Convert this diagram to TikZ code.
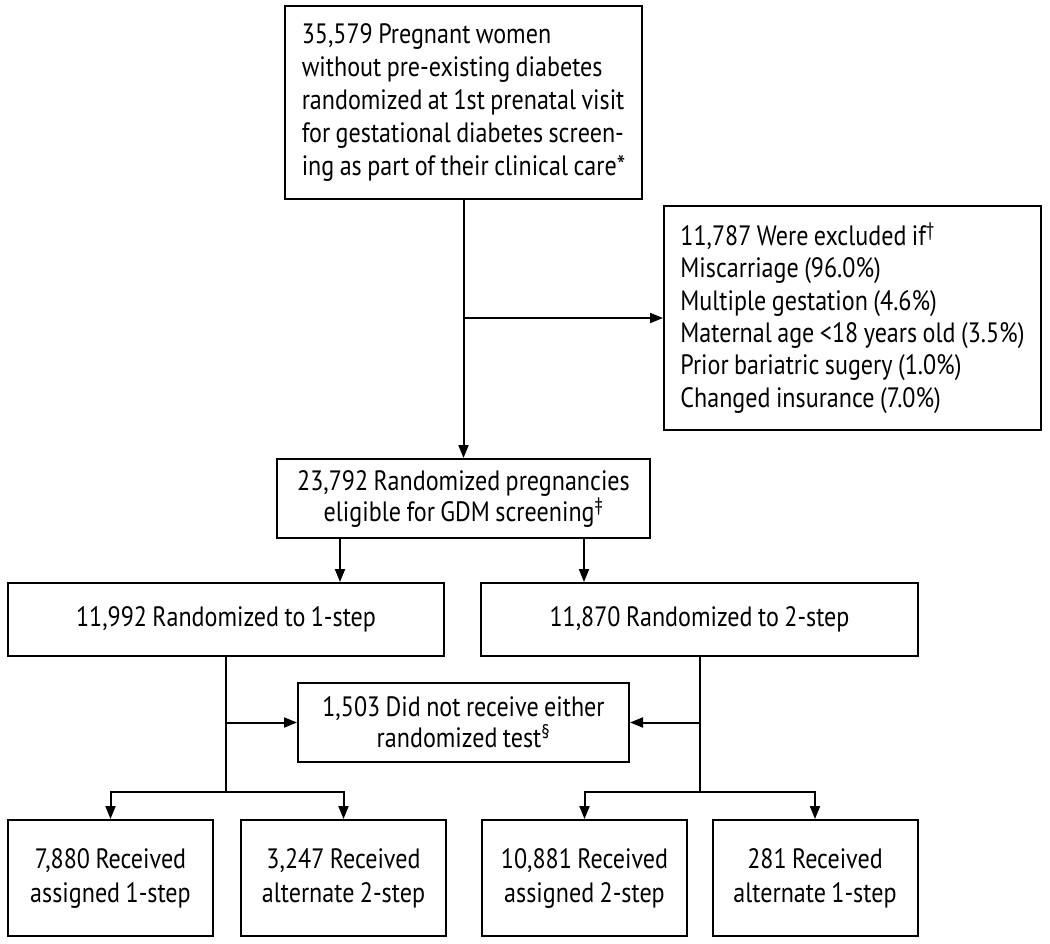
\documentclass[tikz,border=0pt]{standalone}
\usepackage{fontspec}
\setmainfont[FakeStretch=0.86,WordSpace=0.85]{PT Sans}
\usetikzlibrary{arrows.meta}
\begin{document}
\begin{tikzpicture}[x=1pt,y=-1pt,
  box/.style={draw, line width=2pt, inner sep=0pt, font=\fontsize{28}{33}\selectfont, align=center},
  arr/.style={line width=2pt, -{Triangle[length=13pt,width=10pt]}},
  ln/.style={line width=2pt}]
\useasboundingbox (0,0) rectangle (1050,944);
\node[box, minimum width=357pt, minimum height=193pt, align=left] (top) at (463.5,102.5)
 {35,579 Pregnant women\\without pre-existing diabetes\\randomized at 1st prenatal visit\\for gestational diabetes screen-\\ing as part of their clinical care*};
\node[box, minimum width=377pt, minimum height=224pt, align=left, font=\fontsize{28}{32.4}\selectfont] (excl) at (852.5,318)
 {11,787 Were excluded if\textsuperscript{†}\\Miscarriage (96.0\%)\\Multiple gestation (4.6\%)\\Maternal age <18 years old (3.5\%)\\Prior bariatric sugery (1.0\%)\\Changed insurance (7.0\%)};
\node[box, minimum width=373pt, minimum height=79pt, font=\fontsize{28}{31}\selectfont] (elig) at (463.5,498.5)
 {23,792 Randomized pregnancies\\eligible for GDM screening\textsuperscript{‡}};
\node[box, minimum width=436pt, minimum height=73pt] (one) at (226,619.5) {11,992 Randomized to 1-step};
\node[box, minimum width=437pt, minimum height=73pt] (two) at (699.5,619.5) {11,870 Randomized to 2-step};
\node[box, minimum width=331pt, minimum height=79pt, font=\fontsize{28}{31}\selectfont] (miss) at (463.5,722.5)
 {1,503 Did not receive either\\randomized test\textsuperscript{§}};
\node[box, minimum width=205pt, minimum height=116pt, font=\fontsize{28}{34}\selectfont] (b1) at (110.5,878) {7,880 Received\\assigned 1-step};
\node[box, minimum width=205pt, minimum height=116pt, font=\fontsize{28}{34}\selectfont] (b2) at (343.5,878) {3,247 Received\\alternate 2-step};
\node[box, minimum width=205pt, minimum height=116pt, font=\fontsize{28}{34}\selectfont] (b3) at (584.5,878) {10,881 Received\\assigned 2-step};
\node[box, minimum width=205pt, minimum height=116pt, font=\fontsize{28}{34}\selectfont] (b4) at (815,878) {281 Received\\alternate 1-step};
\coordinate (j1) at (463.5,318);
\coordinate (hL) at (226,792);
\coordinate (hR) at (699.5,792);
\draw[arr] (top.south) -- (elig.north);
\draw[arr] (j1) -- (excl.west);
\draw[arr] ([xshift=-123.5pt]elig.south) -- ([xshift=-123.5pt]elig.south |- one.north);
\draw[arr] ([xshift=120.5pt]elig.south) -- ([xshift=120.5pt]elig.south |- two.north);
\draw[ln] (one.south) -- (hL);
\draw[ln] (two.south) -- (hR);
\draw[arr] (one.south |- miss.west) -- (miss.west);
\draw[arr] (two.south |- miss.east) -- (miss.east);
\draw[arr] (hL) -| (b1.north);
\draw[arr] (hL) -| (b2.north);
\draw[arr] (hR) -| (b3.north);
\draw[arr] (hR) -| (b4.north);
\end{tikzpicture}
\end{document}
